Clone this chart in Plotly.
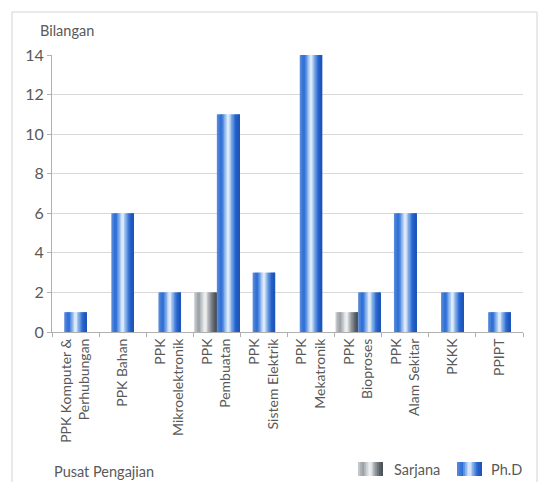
import plotly.graph_objects as go

categories = [
    "PPK Komputer &<br>Perhubungan",
    "PPK Bahan",
    "PPK<br>Mikroelektronik",
    "PPK<br>Pembuatan",
    "PPK<br>Sistem Elektrik",
    "PPK<br>Mekatronik",
    "PPK<br>Bioproses",
    "PPK<br>Alam Sekitar",
    "PKKK",
    "PPIPT",
]
sarjana = [None, None, None, 2, None, None, 1, None, None, None]
phd = [1, 6, 2, 11, 3, 14, 2, 6, 2, 1]
y_ticks = [0, 2, 4, 6, 8, 10, 12, 14]
series_names = ["Sarjana", "Ph.D"]

FONT = "Lato"
TXT = "#595959"

blue_stops = [(0.0, (92, 143, 220)), (0.2, (40, 105, 212)), (0.36, (140, 182, 236)),
              (0.5, (245, 249, 254)), (0.62, (140, 182, 236)), (0.82, (36, 98, 205)),
              (1.0, (28, 84, 180))]
gray_stops = [(0.0, (205, 208, 211)), (0.2, (150, 156, 162)), (0.38, (215, 218, 220)),
              (0.5, (248, 248, 248)), (0.64, (170, 174, 178)), (0.85, (95, 101, 108)),
              (1.0, (72, 78, 86))]


def interp(stops, t):
    for (t0, c0), (t1, c1) in zip(stops, stops[1:]):
        if t0 <= t <= t1:
            f = (t - t0) / (t1 - t0) if t1 > t0 else 0
            c = [round(a + (b - a) * f) for a, b in zip(c0, c1)]
            return "rgb(%d,%d,%d)" % tuple(c)
    return "rgb(%d,%d,%d)" % stops[-1][1]


x = list(range(len(categories)))
W = 0.48
N = 16
fig = go.Figure()


def add_series(name, values, base_offsets, stops):
    for i in range(N):
        t = (i + 0.5) / N
        fig.add_trace(go.Bar(
            x=x, y=values, name=name,
            offset=[b + i * W / N for b in base_offsets],
            width=W / N * (1.6 if i < N - 1 else 1.0),
            marker=dict(color=interp(stops, t), line=dict(width=0)),
            showlegend=False, hoverinfo="skip",
        ))


sar_off = [-W for _ in x]
phd_off = [0 if (s is not None and s > 0) else -W / 2 for s in sarjana]
add_series(series_names[0], sarjana, sar_off, gray_stops)
add_series(series_names[1], phd, phd_off, blue_stops)

# pixel helpers for paper coords (plot area: x 52..523, y 55..332)
L, R, T, B = 52, 523, 55, 332


def px(v):
    return (v - L) / (R - L)


def py(v):
    return (B - v) / (B - T)


shapes = [dict(type="rect", xref="paper", yref="paper", x0=px(12), x1=px(537),
               y0=py(490), y1=py(12), line=dict(color="#d4d4d4", width=1),
               fillcolor="rgba(0,0,0,0)", layer="below")]
annotations = [
    dict(text="Bilangan", xref="paper", yref="paper", x=px(38), y=py(30),
         xanchor="left", yanchor="middle", showarrow=False,
         font=dict(family=FONT, size=14.5, color=TXT)),
    dict(text="Pusat Pengajian", xref="paper", yref="paper", x=px(52), y=py(471),
         xanchor="left", yanchor="middle", showarrow=False,
         font=dict(family=FONT, size=14.5, color=TXT)),
]

# manual legend with gradient swatches
legend_items = [(series_names[0], gray_stops, 358, 392), (series_names[1], blue_stops, 457, 489)]
SW, SN = 25, 12
for name, stops, sx, tx in legend_items:
    for i in range(SN):
        t = (i + 0.5) / SN
        shapes.append(dict(type="rect", xref="paper", yref="paper",
                           x0=px(sx + i * SW / SN), x1=px(sx + (i + 1.3) * SW / SN) if i < SN - 1 else px(sx + SW),
                           y0=py(476), y1=py(462), line=dict(width=0),
                           fillcolor=interp(stops, t)))
    annotations.append(dict(text=name, xref="paper", yref="paper", x=px(tx), y=py(469),
                            xanchor="left", yanchor="middle", showarrow=False,
                            font=dict(family=FONT, size=14.5, color=TXT)))

fig.update_layout(
    width=551, height=482,
    margin=dict(l=L, r=551 - R, t=T, b=482 - B),
    barmode="overlay",
    plot_bgcolor="white", paper_bgcolor="white",
    font=dict(family=FONT, size=13, color=TXT),
    showlegend=False,
    xaxis=dict(range=[-0.5, 9.5], tickmode="array", tickvals=x, ticktext=categories,
               tickangle=-90, ticks="", showgrid=False, zeroline=False,
               showline=True, linecolor="#b0b0b0", linewidth=1,
               tickfont=dict(family=FONT, size=14, color=TXT),
               minor=dict(tick0=0.5, dtick=1, ticks="outside", ticklen=4,
                          tickcolor="#b0b0b0", showgrid=False)),
    yaxis=dict(range=[0, 14], tickvals=y_ticks, showgrid=True, gridcolor="#d9d9d9",
               zeroline=False, showline=True, linecolor="#b0b0b0", linewidth=1,
               ticks="outside", ticklen=4, tickcolor="#b0b0b0",
               tickfont=dict(family=FONT, size=16, color=TXT)),
    annotations=annotations,
    shapes=shapes,
)

fig.write_html("out.html", config={"displayModeBar": False},
               post_script="document.body.style.margin='0';document.body.style.overflow='hidden';")
